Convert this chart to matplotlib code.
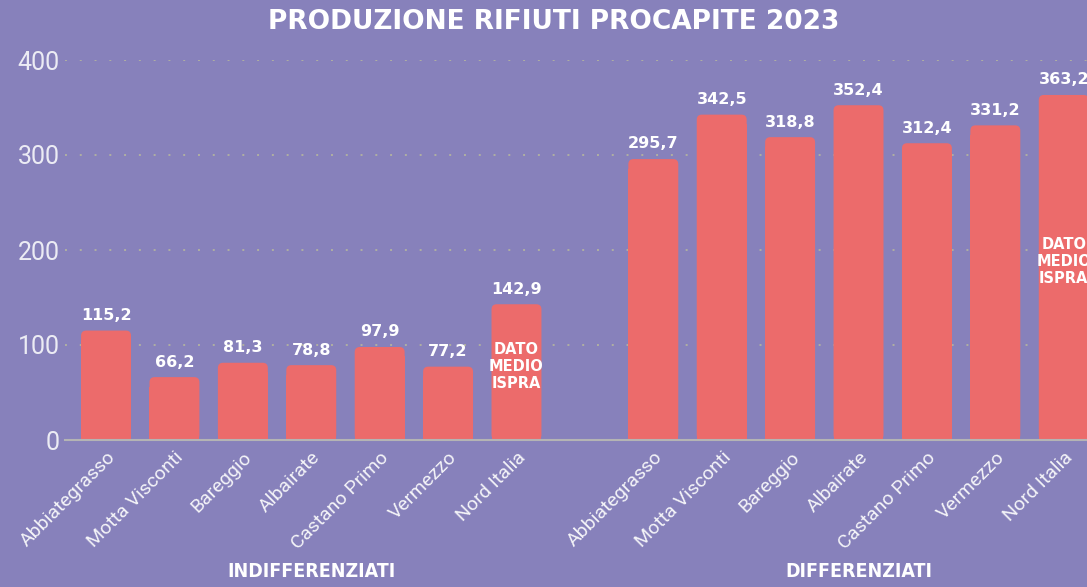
import matplotlib.pyplot as plt
from matplotlib.patches import FancyBboxPatch
import numpy as np

comuni = ['Abbiategrasso', 'Motta Visconti', 'Bareggio', 'Albairate',
          'Castano Primo', 'Vermezzo', 'Nord Italia']
indifferenziati = [115.2, 66.2, 81.3, 78.8, 97.9, 77.2, 142.9]
differenziati = [295.7, 342.5, 318.8, 352.4, 312.4, 331.2, 363.2]
gruppi = ['INDIFFERENZIATI', 'DIFFERENZIATI']

bg = '#8781bb'
bar_col = '#ec6b6b'
bw = 0.73

fig = plt.figure(figsize=(10.87, 5.87), dpi=100, facecolor=bg)
ax = fig.add_axes([65/1087, 147/587, 1 - 65/1087, 380/587], facecolor=bg)

x1 = np.arange(len(comuni))
x2 = x1 + len(comuni) + 1
xs = np.concatenate([x1, x2])
vals = indifferenziati + differenziati

# square bottom part + rounded top
ax.bar(xs, [v - 10 for v in vals], width=bw, color=bar_col, zorder=3)
for x, v in zip(xs, vals):
    ax.add_patch(FancyBboxPatch((x - bw / 2, 0), bw, v,
                                boxstyle='round,pad=0,rounding_size=0.075',
                                mutation_aspect=72, fc=bar_col, ec='none', zorder=3))

# value labels
for x, v in zip(xs, vals):
    ax.text(x, v + 8, ('%.1f' % v).replace('.', ','), ha='center', va='bottom',
            color='white', fontsize=11.5, fontweight='bold', family='DejaVu Sans',
            clip_on=False, zorder=4)

# dato medio ispra
for x, v in [(x1[-1], indifferenziati[-1]), (x2[-1], differenziati[-1])]:
    ax.text(x, v / 2 + 6, 'DATO\nMEDIO\nISPRA', ha='center', va='center',
            color='white', fontsize=10.5, fontweight='bold', linespacing=1.15,
            clip_on=False, zorder=4)

ax.set_xlim(-0.6, 14.34)
ax.set_ylim(0, 400)
ax.set_yticks([0, 100, 200, 300, 400])
ax.set_xticks(xs)
ax.set_xticklabels(comuni + comuni, rotation=45, ha='right', rotation_mode='anchor')

for lab in ax.get_yticklabels():
    lab.set_family('Roboto')
    lab.set_fontsize(18)
    lab.set_color('#ececf4')
for lab in ax.get_xticklabels():
    lab.set_family('Roboto')
    lab.set_fontsize(14)
    lab.set_color('#f4f4f8')

ax.tick_params(axis='both', length=0)
ax.tick_params(axis='y', pad=4)
ax.tick_params(axis='x', pad=6)

for s in ['top', 'right', 'left']:
    ax.spines[s].set_visible(False)
ax.spines['bottom'].set_color('#b4b4b4')
ax.spines['bottom'].set_linewidth(1.5)
ax.spines['bottom'].set_zorder(5)

for y in [100, 200, 300, 400]:
    ax.axhline(y, color='#b0b0a2', linestyle=(0, (1, 6.6)), linewidth=1.4, zorder=1)

for cx, g in zip([x1[3], x2[3]], gruppi):
    ax.text(cx, -0.345, g, transform=ax.get_xaxis_transform(), ha='center',
            va='center', color='white', fontsize=14, fontweight='bold',
            family='DejaVu Sans', fontstretch='condensed', clip_on=False)

fig.text(0.509, 0.962, 'PRODUZIONE RIFIUTI PROCAPITE 2023', ha='center', va='center',
         color='white', fontsize=19, fontweight='heavy', family='DejaVu Sans')

fig.savefig('out.png', dpi=100, facecolor=bg)
